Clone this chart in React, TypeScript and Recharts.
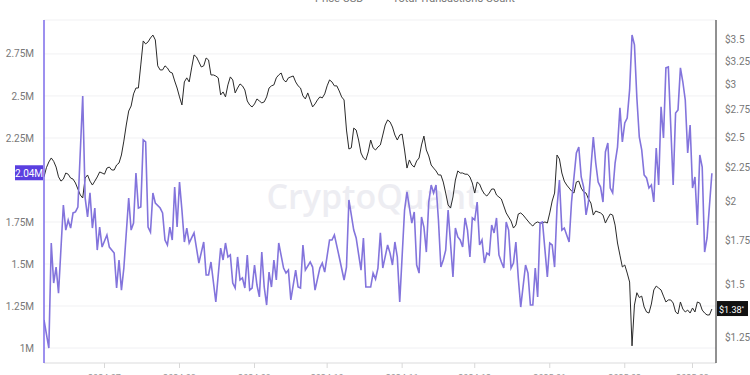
import React from 'react';
import { LineChart, Line, XAxis, YAxis, CartesianGrid, ReferenceLine } from 'recharts';

// daily price (USD), day 0 = first day shown
const priceUsd = [
  2.18, 2.25, 2.295, 2.327, 2.3, 2.255, 2.18, 2.148, 2.163, 2.209,
  2.2, 2.171, 2.163, 2.134, 2.09, 2.047, 2.026, 2.171, 2.194, 2.148,
  2.119, 2.148, 2.179, 2.217, 2.209, 2.2, 2.247, 2.255, 2.232, 2.232,
  2.271, 2.287, 2.351, 2.467, 2.608, 2.737, 2.785, 2.904, 2.964, 2.964,
  3.21, 3.488, 3.452, 3.476, 3.524, 3.56, 3.5, 3.2, 3.155, 3.155,
  3.2, 3.177, 3.133, 3.122, 3.037, 2.964, 2.874, 2.795, 3.027, 3.07,
  3.027, 3.177, 3.323, 3.3, 3.244, 3.188, 3.2, 3.288, 3.266, 3.101,
  3.101, 3.09, 3.07, 2.894, 2.924, 2.874, 2.996, 3.08, 3.048, 2.914,
  2.964, 3.006, 2.986, 2.944, 2.834, 2.795, 2.776, 2.805, 2.854, 2.834,
  2.815, 2.825, 2.874, 2.964, 2.986, 2.996, 3.07, 3.101, 3.122, 3.048,
  3.027, 3.07, 3.08, 3.09, 3.027, 2.986, 2.964, 2.884, 2.854, 2.914,
  2.844, 2.776, 2.805, 2.844, 2.874, 2.864, 2.904, 2.986, 3.048, 3.027,
  2.986, 2.986, 2.934, 2.874, 2.844, 2.563, 2.4, 2.41, 2.58, 2.563,
  2.476, 2.367, 2.327, 2.311, 2.376, 2.476, 2.41, 2.392, 2.417, 2.434,
  2.519, 2.608, 2.654, 2.636, 2.59, 2.519, 2.476, 2.519, 2.527, 2.392,
  2.247, 2.311, 2.271, 2.255, 2.303, 2.327, 2.434, 2.51, 2.392, 2.343,
  2.271, 2.247, 2.225, 2.194, 2.194, 2.141, 2.061, 1.978, 1.957, 2.033,
  2.156, 2.225, 2.209, 2.209, 2.2, 2.2, 2.179, 2.134, 2.061, 2.141,
  2.126, 2.083, 2.054, 2.04, 2.061, 2.09, 2.09, 2.047, 2.033, 2.019,
  1.971, 1.924, 1.897, 1.871, 1.826, 1.845, 1.917, 1.924, 1.91, 1.89,
  1.871, 1.852, 1.839, 1.858, 1.865, 1.858, 1.858, 1.865, 1.858, 1.924,
  2.005, 2.061, 2.351, 2.319, 2.209, 2.148, 2.119, 2.097, 2.076, 2.061,
  2.141, 2.148, 2.097, 2.069, 2.061, 2.019, 1.991, 1.91, 1.937, 1.93,
  1.924, 1.91, 1.858, 1.89, 1.917, 1.91, 1.845, 1.734, 1.663, 1.596,
  1.607, 1.563, 1.515, 1.215, 1.399, 1.46, 1.436, 1.443, 1.39, 1.366,
  1.361, 1.404, 1.474, 1.494, 1.484, 1.474, 1.443, 1.414, 1.424, 1.424,
  1.409, 1.366, 1.357, 1.414, 1.38, 1.366, 1.375, 1.361, 1.385, 1.366,
  1.414, 1.409, 1.375, 1.361, 1.352, 1.352, 1.38,
];

// daily transaction count, millions (null = not read)
const txCountM = [
  1.167, null, 1.0, 1.625, 1.387, 1.482, 1.327, null, 1.851, 1.702,
  1.762, 1.714, 1.804, 1.81, 1.839, null, 2.5, 1.893, 1.78, 1.923,
  1.714, 1.833, 1.583, 1.72, 1.601, null, 1.673, 1.601, null, 1.565,
  1.357, 1.524, 1.345, 1.476, null, 1.893, 1.702, 1.744, 2.042, 1.833,
  1.839, 2.238, 2.226, 1.72, 1.69, 1.923, 1.863, null, 1.833, 1.804,
  1.643, 1.613, 1.72, 1.643, 1.958, 1.72, 1.988, 1.821, 1.631, 1.714,
  1.625, 1.655, 1.685, null, 1.506, null, 1.631, 1.435, 1.435, 1.512,
  null, 1.274, null, 1.595, 1.524, 1.625, 1.542, 1.554, 1.387, 1.357,
  1.542, 1.405, 1.417, 1.357, 1.554, 1.345, 1.357, 1.494, 1.375, 1.304,
  1.571, 1.363, 1.256, 1.452, 1.363, 1.524, 1.405, 1.625, null, 1.476,
  1.446, 1.464, 1.286, null, 1.464, 1.363, 1.357, 1.613, 1.464, null,
  1.512, 1.482, 1.345, null, 1.476, 1.506, 1.452, null, 1.643, 1.643,
  1.673, null, 1.542, null, 1.405, 1.482, 1.881, null, 1.702, 1.655,
  null, 1.464, 1.655, 1.363, null, 1.363, 1.446, 1.411, 1.476, 1.685,
  1.476, null, 1.613, 1.565, 1.494, 1.631, 1.542, 1.274, null, 1.821,
  1.929, null, 1.744, 1.81, 1.494, 1.446, 1.78, 1.72, 1.571, 1.869,
  1.97, 1.923, 1.97, 1.762, 1.482, 1.524, 1.583, 1.821, null, 1.423,
  1.714, 1.661, 1.643, 1.601, 1.774, 1.702, 1.542, 1.774, 1.762, 1.869,
  1.613, 1.643, 1.506, 1.565, 1.554, 1.732, 1.685, 1.774, 1.554, 1.512,
  1.476, 1.75, 1.702, 1.476, 1.506, 1.631, 1.417, 1.244, null, 1.494,
  1.446, 1.256, 1.256, 1.476, 1.304, 1.744, 1.75, null, 1.423, 1.625,
  1.613, 1.482, 1.839, 2.0, 1.702, 1.714, null, 1.631, 1.869, null,
  2.161, 2.196, 2.018, 1.958, 1.792, 1.869, 2.071, 2.256, 2.101, 1.988,
  1.958, 1.869, 2.167, 2.22, 1.952, 1.923, 2.101, 2.196, 2.429, 2.226,
  2.339, 2.369, 2.536, 2.863, 2.804, 2.488, 2.256, 2.179, 2.03, 2.012,
  1.952, 1.97, 1.869, 2.19, 1.97, 2.435, 2.25, 2.667, 2.673, null,
  1.97, 2.399, 2.417, 2.667, 2.583, 2.476, 2.161, 2.327, 1.952, 2.018,
  1.732, 2.149, 2.077, 1.571, 1.655, null, 2.04,
];

const monthTickDays = [25, 56, 87, 117, 148, 178, 209, 240, 268];
const monthTickLabels = ['2024-07', '2024-08', '2024-09', '2024-10', '2024-11', '2024-12', '2025-01', '2025-02', '2025-03'];
const txTicks = [1, 1.25, 1.5, 1.75, 2, 2.25, 2.5, 2.75];
const priceTicks = [1.25, 1.5, 1.75, 2, 2.25, 2.5, 2.75, 3, 3.25, 3.5];
const lastTx = 2.04;
const lastPrice = 1.38;

const chartData = priceUsd.map((price, day) => ({ day, price, tx: txCountM[day] }));

const PURPLE = '#8374dc';
const FONT = 'Roboto, "Noto Sans", sans-serif';

const TxBadge = (props: any) => {
  const { viewBox } = props;
  const y = viewBox.y;
  return (
    <g>
      <rect x={viewBox.x - 29} y={y - 8} width={28} height={15} fill="#5a3fe0" />
      <text x={viewBox.x - 15} y={y + 3.5} textAnchor="middle" fill="#fff" fontSize={10} fontFamily={FONT}>
        {`${lastTx}M`}
      </text>
    </g>
  );
};

const PriceBadge = (props: any) => {
  const { viewBox } = props;
  const x = viewBox.x + viewBox.width;
  const y = viewBox.y;
  return (
    <g>
      <rect x={x + 1} y={y - 8} width={31} height={15} fill="#111" />
      <text x={x + 3} y={y + 3.5} fill="#fff" fontSize={9} fontFamily={FONT}>
        {`$${lastPrice}`}
        <tspan fontSize={6} dy={-3}>*</tspan>
      </text>
    </g>
  );
};

const LegendItem = ({ color, label }: { color: string; label: string }) => (
  <span style={{ display: 'inline-flex', alignItems: 'center', marginRight: 14 }}>
    <span style={{ width: 8, height: 2, background: color, marginRight: 7, display: 'inline-block' }} />
    {label}
  </span>
);

export default function App() {
  return (
    <div style={{ position: 'absolute', left: 0, top: 0, width: 750, height: 375, overflow: 'hidden', background: '#fff', fontFamily: FONT }}>
      <div style={{ position: 'absolute', left: 0, top: 176, width: 746, textAlign: 'center', fontSize: 34, fontWeight: 600, color: '#ededf2', fontFamily: '"Open Sans", sans-serif', lineHeight: '40px' }}>
        CryptoQuant
      </div>
      <div style={{ position: 'absolute', left: 300, top: -9, fontSize: 11, color: '#777', lineHeight: '12px', whiteSpace: 'nowrap' }}>
        <LegendItem color="#555" label="Price USD" />
        <LegendItem color={PURPLE} label="Total Transactions Count" />
      </div>
      <div style={{ position: 'absolute', left: 0, top: 0 }}>
        <LineChart width={750} height={375} data={chartData} margin={{ top: 20, right: 0, bottom: 0, left: 0 }}>
          <CartesianGrid yAxisId="tx" vertical={false} stroke="#f1f1f3" />
          <XAxis
            dataKey="day"
            type="number"
            domain={[0, 277.7]}
            allowDataOverflow
            ticks={monthTickDays}
            interval={0}
            height={12}
            tickSize={5}
            tickMargin={7}
            axisLine={{ stroke: '#e2e2e2' }}
            tickLine={{ stroke: '#d8d8d8' }}
            tick={{ fill: '#999', fontSize: 9, fontFamily: FONT }}
            tickFormatter={(d: number) => monthTickLabels[monthTickDays.indexOf(d)]}
          />
          <YAxis
            yAxisId="tx"
            orientation="left"
            width={44}
            domain={[0.911, 2.952]}
            allowDataOverflow
            ticks={txTicks}
            interval={0}
            tickLine={false}
            tickSize={6}
            tickMargin={4}
            axisLine={{ stroke: '#7d6bea', strokeWidth: 1.5 }}
            tick={{ fill: '#777', fontSize: 10, fontFamily: FONT }}
            tickFormatter={(v: number) => (v === 2 ? '' : `${v}M`)}
          />
          <YAxis
            yAxisId="price"
            orientation="right"
            width={34}
            scale="log"
            domain={[1.145, 3.75]}
            allowDataOverflow
            ticks={priceTicks}
            interval={0}
            tickLine={false}
            tickSize={6}
            tickMargin={3}
            axisLine={{ stroke: '#222' }}
            tick={{ fill: '#777', fontSize: 10, fontFamily: FONT, textAnchor: 'start' }}
            tickFormatter={(v: number) => `$${v}`}
          />
          <Line
            yAxisId="price"
            dataKey="price"
            stroke="#2a2a2a"
            strokeWidth={1}
            dot={false}
            isAnimationActive={false}
          />
          <Line
            yAxisId="tx"
            dataKey="tx"
            stroke={PURPLE}
            strokeWidth={1.6}
            dot={false}
            connectNulls
            isAnimationActive={false}
          />
          <ReferenceLine yAxisId="tx" y={lastTx} stroke="none" label={TxBadge} />
          <ReferenceLine yAxisId="price" y={lastPrice} stroke="none" label={PriceBadge} />
        </LineChart>
      </div>
    </div>
  );
}
